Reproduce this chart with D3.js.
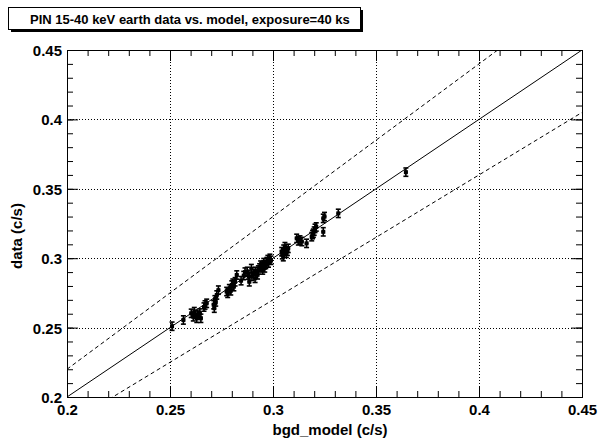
<!DOCTYPE html>
<html>
<head>
<meta charset="utf-8">
<script src="https://d3js.org/d3.v7.min.js"></script>
<style>
  body { margin: 0; background: #fff; }
  text { font-family: "Liberation Sans", Arial, Helvetica, sans-serif; font-weight: bold; fill: #000; }
</style>
</head>
<body>
<svg id="chart" width="599" height="442"></svg>
<script>
/************************************ Data *******************************/
var titleText = "PIN 15-40 keV earth data vs. model, exposure=40 ks";
var xTitle = "bgd_model (c/s)";
var yTitle = "data (c/s)";
var majorTicks = [0.2, 0.25, 0.3, 0.35, 0.4, 0.45];
var gridTicks = [0.25, 0.3, 0.35, 0.4];
var refLines = [ {slope: 1.0, dash: null}, {slope: 1.1, dash: "4,3"}, {slope: 0.9, dash: "4,3"} ];

// model (c/s)
var modelRate = [0.2510,0.2565,0.2603,0.2618,0.2635,0.2650,0.2613,0.2630,0.2625,0.2645,
  0.2670,0.2678,0.2665,0.2715,0.2718,0.2727,0.2735,0.2712,0.2722,0.2775,
  0.2788,0.2800,0.2816,0.2824,0.2780,0.2795,0.2810,0.2805,0.2864,0.2880,
  0.2904,0.2913,0.2929,0.2945,0.2885,0.2845,0.2858,0.2875,0.2895,0.2915,
  0.2925,0.2935,0.2898,0.2955,0.2960,0.2970,0.2985,0.2978,0.2965,0.2990,
  0.2950,0.2940,0.2955,0.2975,0.3042,0.3050,0.3058,0.3074,0.3065,0.3045,
  0.3060,0.3052,0.3070,0.3115,0.3131,0.3123,0.3140,0.3163,0.3188,0.3196,
  0.3204,0.3200,0.3192,0.3210,0.3244,0.3250,0.3244,0.3317,0.3645];
// data (c/s)
var dataRate = [0.2510,0.2555,0.2603,0.2615,0.2590,0.2567,0.2578,0.2567,0.2595,0.2605,
  0.2663,0.2675,0.2648,0.2640,0.2700,0.2735,0.2770,0.2665,0.2685,0.2760,
  0.2780,0.2807,0.2830,0.2879,0.2747,0.2765,0.2795,0.2820,0.2900,0.2879,
  0.2890,0.2855,0.2915,0.2939,0.2830,0.2838,0.2875,0.2905,0.2925,0.2905,
  0.2880,0.2930,0.2870,0.2950,0.2930,0.2975,0.2999,0.2965,0.2955,0.2985,
  0.2915,0.2950,0.2968,0.2990,0.3047,0.3011,0.3083,0.3071,0.3035,0.3025,
  0.3055,0.3065,0.3050,0.3143,0.3131,0.3125,0.3120,0.3107,0.3155,0.3180,
  0.3215,0.3195,0.3170,0.3225,0.3287,0.3300,0.3190,0.3323,0.3620];
var xErr = 0.0009, yErr = 0.003;

/************************************ Layout *******************************/
var svg = d3.select("#chart");
var L = 67, R = 582, T = 50, B = 397;
var x = d3.scaleLinear().domain([0.2, 0.45]).range([L, R]);
var y = d3.scaleLinear().domain([0.2, 0.45]).range([B, T]);
var minorTicks = d3.range(0, 26).map(function(i){ return +(0.2 + i*0.01).toFixed(2); });
var fmt = function(d){ return String(+d.toFixed(2)); };

// title pave with shadow
svg.append("rect").attr("x", 11).attr("y", 10).attr("width", 352).attr("height", 22).attr("fill", "#000");
svg.append("rect").attr("x", 8.5).attr("y", 7.5).attr("width", 352).attr("height", 22)
   .attr("fill", "#fff").attr("stroke", "#000").attr("stroke-width", 1);
svg.append("text").attr("x", 30).attr("y", 23.5).attr("font-size", 13).text(titleText);

// grid
var grid = svg.append("g").attr("stroke", "#000").attr("stroke-width", 1).attr("stroke-dasharray", "1,2");
grid.selectAll(".gx").data(gridTicks).enter().append("line")
    .attr("x1", function(d){ return Math.round(x(d)) + 0.5; }).attr("x2", function(d){ return Math.round(x(d)) + 0.5; })
    .attr("y1", T).attr("y2", B);
grid.selectAll(".gy").data(gridTicks).enter().append("line")
    .attr("y1", function(d){ return Math.round(y(d)) + 0.5; }).attr("y2", function(d){ return Math.round(y(d)) + 0.5; })
    .attr("x1", L).attr("x2", R);

// reference lines y = k*x, clipped to the frame
svg.append("clipPath").attr("id", "frame").append("rect")
   .attr("x", L).attr("y", T).attr("width", R - L).attr("height", B - T);
var lineG = svg.append("g").attr("clip-path", "url(#frame)");
lineG.selectAll("line").data(refLines).enter().append("line")
    .attr("x1", x(0.2)).attr("y1", function(d){ return y(0.2 * d.slope); })
    .attr("x2", x(0.45)).attr("y2", function(d){ return y(0.45 * d.slope); })
    .attr("stroke", "#000").attr("stroke-width", 1)
    .attr("stroke-dasharray", function(d){ return d.dash; });

// axes: major + minor ticks on all four sides
function axisPair(axisFn, scale, g, labels) {
  g.call(axisFn(scale).tickValues(minorTicks).tickSize(6).tickFormat(""));
  var major = g.append("g").call(axisFn(scale).tickValues(majorTicks).tickSize(11).tickFormat(labels ? fmt : ""));
  g.selectAll(".domain").attr("stroke", "#000");
  g.selectAll("line").attr("stroke", "#000");
  return major;
}
var gb = svg.append("g").attr("transform", "translate(0," + B + ")");
var mb = axisPair(function(s){ return d3.axisTop(s); }, x, gb, true);
mb.selectAll("text").attr("y", 0).attr("dy", 18).attr("font-size", 15).attr("font-family", null);
var gt = svg.append("g").attr("transform", "translate(0," + T + ")");
axisPair(function(s){ return d3.axisBottom(s); }, x, gt, false);
var gl = svg.append("g").attr("transform", "translate(" + L + ",0)");
var ml = axisPair(function(s){ return d3.axisRight(s); }, y, gl, true);
ml.selectAll("text").attr("x", -5).attr("text-anchor", "end").attr("dy", "0.36em").attr("font-size", 15).attr("font-family", null);
var gr = svg.append("g").attr("transform", "translate(" + R + ",0)");
axisPair(function(s){ return d3.axisLeft(s); }, y, gr, false);
svg.selectAll(".tick text").attr("fill", "#000");

// axis titles
svg.append("text").attr("x", 330).attr("y", 435).attr("text-anchor", "middle").attr("font-size", 15).text(xTitle);
svg.append("text").attr("transform", "translate(22,236) rotate(-90)").attr("text-anchor", "middle")
   .attr("font-size", 15).text(yTitle);

// data points with error bars
var pts = modelRate.map(function(m, i){ return {m: m, d: dataRate[i]}; });
var pg = svg.append("g").attr("stroke", "#000").attr("stroke-width", 1.6);
var p = pg.selectAll("g").data(pts).enter().append("g");
p.append("line")
  .attr("x1", function(d){ return x(d.m); }).attr("x2", function(d){ return x(d.m); })
  .attr("y1", function(d){ return y(d.d - yErr); }).attr("y2", function(d){ return y(d.d + yErr); });
p.append("line")
  .attr("x1", function(d){ return x(d.m - xErr); }).attr("x2", function(d){ return x(d.m + xErr); })
  .attr("y1", function(d){ return y(d.d); }).attr("y2", function(d){ return y(d.d); });
[-1, 1].forEach(function(s){
  p.append("line")
    .attr("x1", function(d){ return x(d.m) - 2.5; }).attr("x2", function(d){ return x(d.m) + 2.5; })
    .attr("y1", function(d){ return y(d.d + s*yErr); }).attr("y2", function(d){ return y(d.d + s*yErr); });
});
p.append("rect")
  .attr("x", function(d){ return x(d.m) - 2; }).attr("y", function(d){ return y(d.d) - 2; })
  .attr("width", 4).attr("height", 4).attr("fill", "#000").attr("stroke", "none");
</script>
</body>
</html>
